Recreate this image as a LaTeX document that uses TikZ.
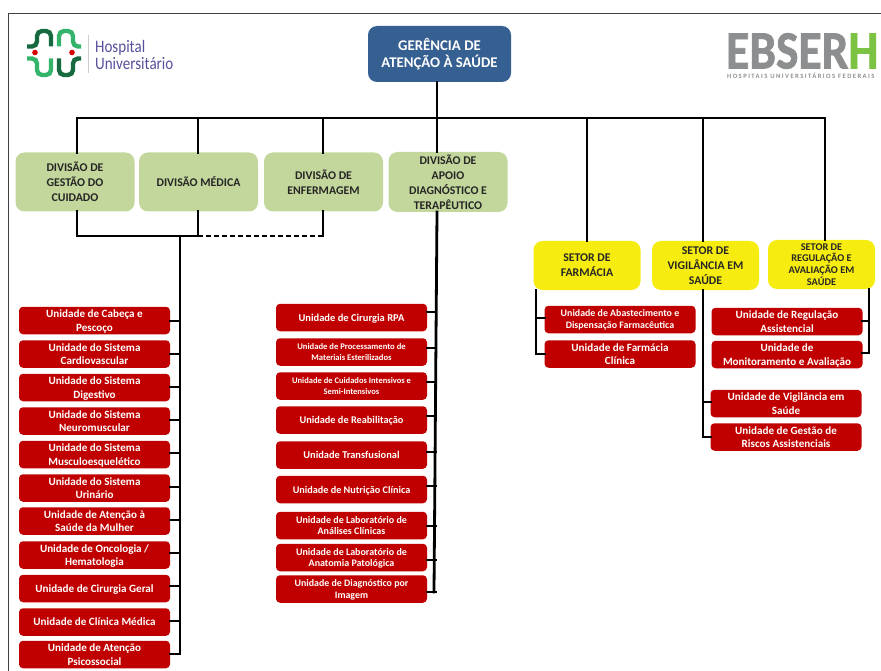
\documentclass[tikz,border=0pt]{standalone}
\usepackage{fontspec}
\setmainfont{Carlito}
\definecolor{azul}{HTML}{366092}
\definecolor{verde}{HTML}{C3D69B}
\definecolor{amarelo}{HTML}{F7EC0F}
\definecolor{vermelho}{HTML}{C00000}
\definecolor{cinza}{HTML}{8C8E90}
\definecolor{roxo}{HTML}{55509A}
\definecolor{logoescuro}{HTML}{17693F}
\definecolor{logoclaro}{HTML}{34B36A}
\definecolor{verdeh}{HTML}{7CC243}
\tikzset{
  caixa/.style={rounded corners=9pt,inner sep=0pt,align=center,font=\bfseries\fontsize{11.8}{15}\selectfont,text=black!85},
  gerencia/.style={caixa,fill=azul,text=white,minimum width=143pt,minimum height=56pt,font=\bfseries\fontsize{14.8}{16.8}\selectfont},
  divisao/.style={caixa,fill=verde,minimum width=119pt,minimum height=59pt},
  setor/.style={caixa,fill=amarelo,minimum width=107pt,minimum height=49pt},
  unidade/.style={rounded corners=4pt,inner sep=0pt,align=center,fill=vermelho,text=white,minimum width=151pt,minimum height=27.5pt,text depth=0pt,font=\bfseries\fontsize{11.1}{13.7}\selectfont},
  linha/.style={line width=2.8pt,line cap=rect,black},
  tracejada/.style={line width=2.8pt,black,dash pattern=on 5pt off 3pt},
  logo/.style={line width=4.4pt,rounded corners=5pt}
}
\begin{document}
\begin{tikzpicture}[x=1pt,y=-1pt]
  \useasboundingbox (0,0) rectangle (881,671);
  \draw[line width=1pt,black!75] (8,671) -- (8,14) -- (881,14);

  % logos
  \draw[logo,logoescuro] (27,46.5) -- (37,46.5) -- (37,31) -- (51,31) -- (51,46.5);
  \draw[logo,logoclaro] (59,46.5) -- (59,31) -- (73,31) -- (73,46.5) -- (81,46.5);
  \draw[logo,logoclaro] (27,58.5) -- (37,58.5) -- (37,75) -- (51,75) -- (51,58.5);
  \draw[logo,logoescuro] (59,58.5) -- (59,75) -- (73,75) -- (73,58.5) -- (81,58.5);
  \fill[red!85!black] (35,52.5) circle (2.8) (72,52.5) circle (2.8);
  \fill[black!20] (87.5,35) rectangle (89,73);
  \node[anchor=west,inner sep=0pt,align=left,text=roxo,xscale=.86,font=\fontsize{17.5}{16.5}\selectfont] (hospital) at (95,55) {Hospital\\Universitário};
  \node[anchor=west,inner sep=0pt,text=cinza,xscale=.88,font=\bfseries\fontsize{54}{54}\selectfont\addfontfeature{FakeBold=1.5}] (ebserh) at (726,51) {EBSER\textcolor{verdeh}{H}};
  \node[anchor=west,inner sep=0pt,text=cinza,font=\bfseries\fontsize{6.6}{7}\selectfont\addfontfeature{LetterSpace=22}] (federais) at (727,75.5) {HOSPITAIS UNIVERSITÁRIOS FEDERAIS};

  % caixas principais
  \node[gerencia] (ger) at (439.5,54) {GERÊNCIA DE\\ATENÇÃO À SAÚDE};
  \node[divisao] (gestao) at (75,182) {DIVISÃO DE\\GESTÃO DO\\CUIDADO};
  \node[divisao] (medica) at (198.5,182) {DIVISÃO MÉDICA};
  \node[divisao] (enfermagem) at (323.5,182) {DIVISÃO DE\\ENFERMAGEM};
  \node[divisao,minimum height=60pt] (apoio) at (448,182) {DIVISÃO DE\\APOIO\\DIAGNÓSTICO E\\TERAPÊUTICO};
  \node[setor] (farmacia) at (587,265.5) {SETOR DE\\FARMÁCIA};
  \node[setor] (vigilancia) at (705.5,265.5) {SETOR DE\\VIGILÂNCIA EM\\SAÚDE};
  \node[setor,font=\bfseries\fontsize{10.3}{11.7}\selectfont] (regulacao) at (821.5,264.5) {SETOR DE\\REGULAÇÃO E\\AVALIAÇÃO EM\\SAÚDE};

  % barra superior
  \foreach \xb/\alvo in {77/gestao,198/medica,323/enfermagem,437/apoio,587/farmacia,703/vigilancia,825/regulacao} {
    \coordinate (b\alvo) at (\xb,118);
    \draw[linha] (b\alvo) -- (b\alvo |- \alvo.north);
  }
  \draw[linha] (bgestao) -- (bregulacao);
  \draw[linha] (bapoio |- ger.south) -- (bapoio);

  % divisoes assistenciais
  \coordinate (jgestao) at (77,236);
  \coordinate (tronco) at (180,236);
  \coordinate (jmedica) at (198,236);
  \coordinate (jenf) at (323,236);
  \draw[linha] (jgestao |- gestao.south) -- (jgestao) -- (jmedica);
  \draw[linha] (jmedica |- medica.south) -- (jmedica);
  \draw[linha] (jenf |- enfermagem.south) -- (jenf);
  \draw[tracejada] (jmedica) -- (jenf);
  \coordinate (fimtronco) at (180,654);
  \draw[linha] (tronco) -- (fimtronco);
  \foreach \nome/\yc/\yt/\texto in {
    cabeca/320.5/321/{Unidade de Cabeça e\\Pescoço},
    cardio/354/354/{Unidade do Sistema\\Cardiovascular},
    digest/387.5/387/{Unidade do Sistema\\Digestivo},
    neuro/421/420/{Unidade do Sistema\\Neuromuscular},
    musculo/454.5/453/{Unidade do Sistema\\Musculoesquelético},
    urin/488/487/{Unidade do Sistema\\Urinário},
    mulher/521/520/{Unidade de Atenção à\\Saúde da Mulher},
    onco/555/553/{Unidade de Oncologia /\\Hematologia},
    geral/588.5/586/{Unidade de Cirurgia Geral},
    clinica/622/621/{Unidade de Clínica Médica},
    psico/654.5/654/{Unidade de Atenção\\Psicossocial}} {
    \node[unidade] (\nome) at (94.5,\yc) {\texto};
    \draw[linha] (\nome.east |- 0,\yt) -- (tronco |- 0,\yt);
  }

  % apoio
  \coordinate (tapoio) at (437,212);
  \coordinate (fimapoio) at (434,592);
  \draw[linha] (tapoio) -- (fimapoio);
  \foreach \nome/\yc/\yt/\tam/\alt/\texto in {
    rpa/317.5/312/10.5/13/{Unidade de Cirurgia RPA},
    esteril/352/348/8.6/11/{Unidade de Processamento de\\Materiais Esterilizados},
    intens/386/382/8.5/11/{Unidade de Cuidados Intensivos e\\Semi-Intensivos},
    reab/420/416/10.3/13/{Unidade de Reabilitação},
    transf/455/452/10.4/13/{Unidade Transfusional},
    nutri/489.5/486/10.2/13/{Unidade de Nutrição Clínica},
    analis/525.5/526/10/11.8/{Unidade de Laboratório de\\Análises Clínicas},
    patol/557.5/560/10/11.8/{Unidade de Laboratório de\\Anatomia Patológica},
    imagem/589/592/9.9/11.8/{Unidade de Diagnóstico por\\Imagem}} {
    \node[unidade,font=\bfseries\fontsize{\tam}{\alt}\selectfont] (\nome) at (351.5,\yc) {\texto};
    \draw[linha] (\nome.east |- 0,\yt) -- (437 - 1,\yt);
  }

  % setores
  \node[unidade,font=\bfseries\fontsize{9.9}{12}\selectfont] (abast) at (620,319.5) {Unidade de Abastecimento e\\Dispensação Farmacêutica};
  \node[unidade] (fclinica) at (620,354) {Unidade de Farmácia\\Clínica};
  \node[unidade] (regass) at (787,321.5) {Unidade de Regulação\\Assistencial};
  \node[unidade] (monit) at (787,354.5) {Unidade de\\Monitoramento e Avaliação};
  \node[unidade] (vigsaude) at (786,403.5) {Unidade de Vigilância em\\Saúde};
  \node[unidade] (riscos) at (786,437) {Unidade de Gestão de\\Riscos Assistenciais};

  \coordinate (tfarm) at (536,290);
  \coordinate (tvig) at (703,290);
  \coordinate (treg) at (869,289);
  \draw[linha] (tfarm) -- (tfarm |- 0,354) -- (fclinica.west |- 0,354);
  \draw[linha] (tfarm |- 0,318) -- (abast.west |- 0,318);
  \draw[linha] (tvig) -- (tvig |- 0,437) -- (riscos.west |- 0,437);
  \draw[linha] (tvig |- 0,402) -- (vigsaude.west |- 0,402);
  \draw[linha] (treg) -- (treg |- 0,353) -- (monit.east |- 0,353);
  \draw[linha] (treg |- 0,321) -- (regass.east |- 0,321);
\end{tikzpicture}
\end{document}
